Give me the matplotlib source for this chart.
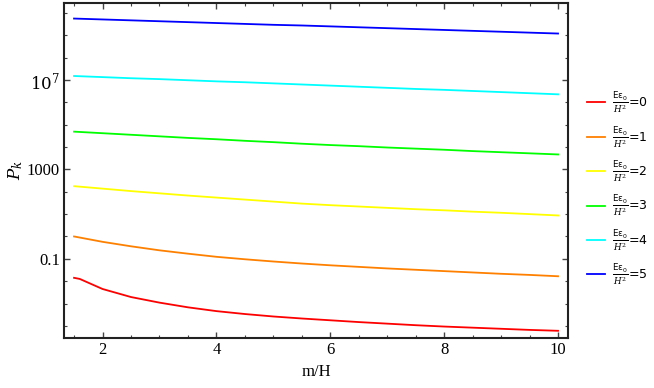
import numpy as np
import matplotlib
matplotlib.use('Agg')
import matplotlib.pyplot as plt
from matplotlib.ticker import FixedLocator, NullFormatter

# m/H sample points
x_grid = [1.5, 2.0, 2.5, 3.0, 3.5, 4.0, 4.5, 5.0, 5.5, 6.0,
          6.5, 7.0, 7.5, 8.0, 8.5, 9.0, 9.5, 10.0]
x_red = [1.5, 1.6, 2.0, 2.5, 3.0, 3.5, 4.0, 4.5, 5.0, 5.5, 6.0,
         6.5, 7.0, 7.5, 8.0, 8.5, 9.0, 9.5, 10.0]

# log10(P_k)
logpk_0 = [-1.85, -1.90, -2.35, -2.71, -2.96, -3.17, -3.34, -3.47, -3.58, -3.67,
           -3.75, -3.83, -3.90, -3.97, -4.03, -4.08, -4.13, -4.18, -4.22]
logpk_1 = [0.00, -0.24, -0.44, -0.62, -0.77, -0.91, -1.02, -1.12, -1.21, -1.29,
           -1.36, -1.43, -1.49, -1.55, -1.61, -1.67, -1.72, -1.78]
logpk_2 = [2.25, 2.14, 2.03, 1.93, 1.83, 1.74, 1.65, 1.56, 1.47, 1.40,
           1.34, 1.28, 1.22, 1.17, 1.11, 1.06, 1.00, 0.94]
logpk_3 = [4.69, 4.62, 4.55, 4.48, 4.41, 4.35, 4.28, 4.22, 4.15, 4.09,
           4.04, 3.98, 3.93, 3.88, 3.82, 3.77, 3.72, 3.67]
logpk_4 = [7.18, 7.13, 7.08, 7.04, 6.99, 6.94, 6.90, 6.85, 6.80, 6.75,
           6.70, 6.65, 6.60, 6.56, 6.51, 6.46, 6.41, 6.36]
logpk_5 = [9.75, 9.71, 9.67, 9.63, 9.59, 9.55, 9.51, 9.47, 9.44, 9.40,
           9.36, 9.32, 9.28, 9.24, 9.20, 9.16, 9.12, 9.08]

series = [(x_red, logpk_0), (x_grid, logpk_1), (x_grid, logpk_2),
          (x_grid, logpk_3), (x_grid, logpk_4), (x_grid, logpk_5)]
colors = ['#ff0000', '#ff8000', '#ffff00', '#00ff00', '#00ffff', '#0000ff']
labels = [r'$\frac{\mathsf{E\epsilon_0}}{H^2}$=%d' % n for n in range(6)]

x_ticks = [2, 4, 6, 8, 10]
x_minor = [1.5, 2.5, 3, 3.5, 4.5, 5, 5.5, 6.5, 7, 7.5, 8.5, 9, 9.5]
y_ticks = [0.1, 1000, 1e7]
y_ticklabels = ['0.1', '1000', r'$10^7$']

plt.rcParams['font.family'] = 'Liberation Serif'
plt.rcParams['mathtext.fontset'] = 'dejavuserif'

fig = plt.figure(figsize=(6.54, 3.88), dpi=100)
ax = fig.add_axes([0.098, 0.129, 0.7705, 0.8635])

for (xs, ys), c, lab in zip(series, colors, labels):
    ax.plot(xs, 10 ** np.array(ys), color=c, lw=1.3, label=lab)

ax.set_yscale('log')
ax.set_xlim(1.325, 10.175)
ax.set_ylim(10 ** -4.54, 10 ** 10.45)

ax.xaxis.set_major_locator(FixedLocator(x_ticks))
ax.xaxis.set_minor_locator(FixedLocator(x_minor))
ax.set_xticklabels([str(t) for t in x_ticks])
ax.yaxis.set_major_locator(FixedLocator(y_ticks))
ax.yaxis.set_minor_locator(FixedLocator([10.0 ** k for k in range(-4, 11)]))
ax.yaxis.set_minor_formatter(NullFormatter())
ax.set_yticklabels(y_ticklabels)

ax.tick_params(which='both', direction='in', top=True, right=True,
               labelsize=12, color='#444444')
ax.tick_params(which='major', length=4, width=1, pad=3)
ax.tick_params(which='minor', length=2.5, width=0.8)
for sp in ax.spines.values():
    sp.set_linewidth(1.5)
    sp.set_color('#222222')

ax.set_xlabel('m/H', fontsize=12, labelpad=4)
ax.set_ylabel(r'$P_k$', fontsize=12, labelpad=1)

leg = ax.legend(loc='center left', bbox_to_anchor=(1.015, 0.443), frameon=False,
                handlelength=1.45, handletextpad=0.55, labelspacing=0.72,
                prop={'family': 'DejaVu Sans', 'size': 9})
plt.rcParams['mathtext.fontset'] = 'dejavusans'

fig.savefig('out.png', dpi=100)
